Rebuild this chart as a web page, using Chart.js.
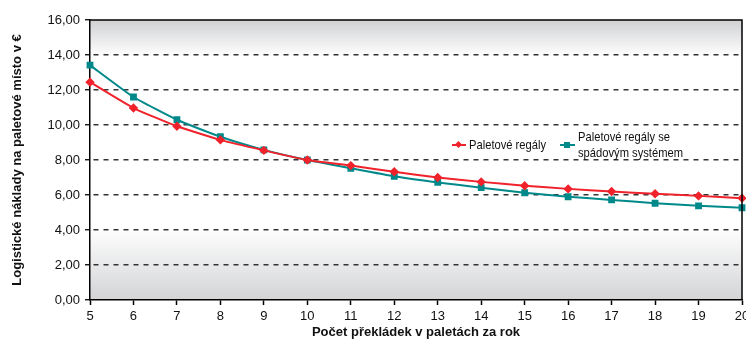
<!DOCTYPE html>
<html>
<head>
<meta charset="utf-8">
<script src="https://cdn.jsdelivr.net/npm/chart.js@4"></script>
<style>
    body { margin: 0; overflow: hidden; background: #fff; }
    #wrap { position: relative; width: 760px; height: 340px; }
    .legend { position: absolute; font-family: "Liberation Sans", Arial, sans-serif; font-size: 13px; color: #111; line-height: 16px; white-space: nowrap; transform: scaleX(0.86); transform-origin: 0 0; }
    .swatch { position: absolute; height: 2px; }
    .mark { position: absolute; }
</style>
</head>
<body>
<div id="wrap">
    <canvas id="costs" width="760" height="340"></canvas>
    <div class="swatch" style="left:452px; top:144px; width:14px; background:#f0222b"></div>
    <div class="mark" style="left:456px; top:142px; width:5px; height:5px; background:#f0222b; transform:rotate(45deg)"></div>
    <div class="legend" style="left:469px; top:137px">Paletové regály</div>
    <div class="swatch" style="left:560px; top:144px; width:15px; background:#00898a"></div>
    <div class="mark" style="left:564px; top:142px; width:6px; height:6px; background:#00898a"></div>
    <div class="legend" style="left:578px; top:129px">Paletové regály se<br>spádovým systémem</div>
</div>
<script>
const pallets = ['5', '6', '7', '8', '9', '10', '11', '12', '13', '14', '15', '16', '17', '18', '19', '20'];
const palletRacks = [12.45, 10.97, 9.93, 9.15, 8.55, 8.0, 7.68, 7.33, 7.0, 6.75, 6.53, 6.35, 6.2, 6.07, 5.95, 5.82];
const gravityRacks = [13.42, 11.6, 10.3, 9.33, 8.58, 8.0, 7.53, 7.07, 6.72, 6.42, 6.13, 5.9, 5.72, 5.53, 5.38, 5.27];
const yTicks = [0, 2, 4, 6, 8, 10, 12, 14, 16];

const FONT = '"Liberation Sans", Arial, sans-serif';

// shaded plot background + border on top and right
const plotFrame = {
    id: 'plotFrame',
    beforeDraw(chart) {
        const { ctx, chartArea: a } = chart;
        const g = ctx.createLinearGradient(0, a.top, 0, a.bottom);
        g.addColorStop(0, '#d0d1d3');
        g.addColorStop(0.13, '#ffffff');
        g.addColorStop(0.74, '#ffffff');
        g.addColorStop(1, '#d3d4d6');
        ctx.save();
        ctx.fillStyle = g;
        ctx.fillRect(a.left, a.top, a.right - a.left, a.bottom - a.top);
        ctx.restore();
    },
    afterDatasetsDraw(chart) {
        const { ctx, chartArea: a } = chart;
        ctx.save();
        ctx.strokeStyle = '#000';
        ctx.lineWidth = 1.5;
        ctx.beginPath();
        ctx.moveTo(a.left, a.top);
        ctx.lineTo(a.right, a.top);
        ctx.lineTo(a.right, a.bottom);
        ctx.stroke();
        ctx.restore();
    }
};

new Chart(document.getElementById('costs'), {
    type: 'line',
    data: {
        labels: pallets,
        datasets: [{
            label: 'Paletové regály',
            data: palletRacks,
            borderColor: '#f0222b',
            backgroundColor: '#f0222b',
            borderWidth: 2,
            pointStyle: 'rectRot',
            pointRadius: 3.3,
            tension: 0.15
        }, {
            label: 'Paletové regály se spádovým systémem',
            data: gravityRacks,
            borderColor: '#00898a',
            backgroundColor: '#00898a',
            borderWidth: 2,
            pointStyle: 'rect',
            pointRadius: 3.4,
            tension: 0.15
        }]
    },
    options: {
        responsive: false,
        animation: false,
        layout: { padding: { left: 10, top: 20, right: 18, bottom: 0 } },
        plugins: {
            legend: { display: false },
            tooltip: { enabled: false }
        },
        scales: {
            x: {
                offset: false,
                border: { color: '#000', width: 1.5 },
                grid: { drawOnChartArea: false, drawTicks: true, tickLength: 5, tickColor: '#000', tickWidth: 1.5 },
                ticks: { color: '#111', font: { family: FONT, size: 13 }, padding: 4, maxRotation: 0, autoSkip: false },
                title: { display: true, text: 'Počet překládek v paletách za rok', color: '#111', font: { family: FONT, size: 13, weight: 'bold' }, padding: { top: 1, bottom: 0 } },
                afterFit: (s) => { s.height = 40; }
            },
            y: {
                min: 0,
                max: 16,
                afterBuildTicks: (s) => { s.ticks = yTicks.map(v => ({ value: v })); },
                border: { color: '#000', width: 1.5, dash: [5, 5], dashOffset: -3 },
                grid: {
                    color: (c) => (c.tick && (c.tick.value === 0 || c.tick.value === 16)) ? 'rgba(0,0,0,0)' : '#333',
                    lineWidth: 1.5,
                    tickLength: 5,
                    tickColor: '#000',
                    tickBorderDash: [],
                    tickWidth: 1.3
                },
                ticks: {
                    color: '#111',
                    font: { family: FONT, size: 13 },
                    padding: 5,
                    callback: (v) => v.toFixed(2).replace('.', ',')
                },
                title: { display: true, text: 'Logistické náklady na paletové místo v €', color: '#111', font: { family: FONT, size: 13, weight: 'bold' }, padding: { top: 0, bottom: 6 } },
                afterFit: (s) => { s.width = 80; }
            }
        }
    },
    plugins: [plotFrame]
});
</script>
</body>
</html>
